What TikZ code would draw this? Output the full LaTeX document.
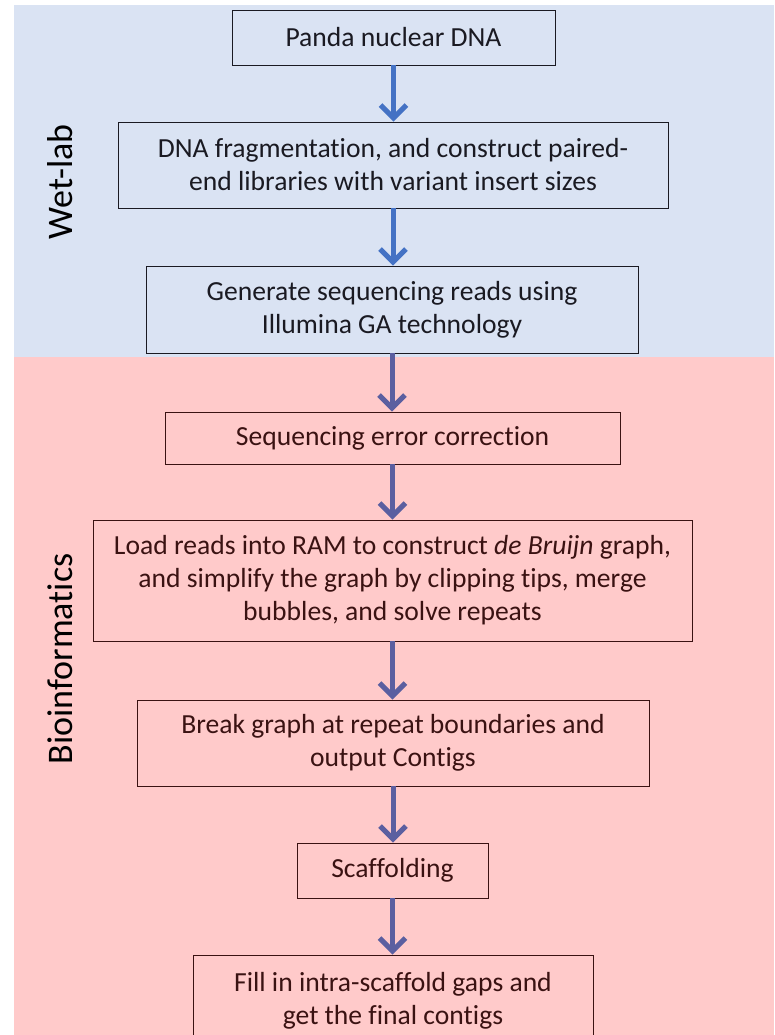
\documentclass[tikz,border=0pt]{standalone}
\usepackage{fontspec}
\setmainfont[RawFeature=-liga]{Carlito}
\usetikzlibrary{arrows.meta}

\definecolor{wetbg}{HTML}{DAE3F3}
\definecolor{biobg}{HTML}{FFCACA}
\definecolor{wetarrow}{HTML}{4472C4}
\definecolor{bioarrow}{HTML}{5B5FA0}
\definecolor{wetink}{HTML}{1A1A22}
\definecolor{bioink}{HTML}{3A1212}

\tikzset{
  stage/.style={draw, line width=0.9pt, align=center, inner sep=0pt,
    font=\fontsize{27.6}{33}\selectfont},
  wetstage/.style={stage, draw=wetink, text=wetink},
  biostage/.style={stage, draw=bioink, text=bioink},
  flow/.style={line width=5pt, -{Straight Barb[length=13pt,width=26pt]}},
  sidelabel/.style={rotate=90, font=\fontsize{36}{40}\selectfont, text=black}
}

\begin{document}
\begin{tikzpicture}[x=1pt,y=1pt]
        \useasboundingbox (0,0) rectangle (774,-1035);
        \clip (0,0) rectangle (774,-1035);
        % backgrounds
        \fill[wetbg] (14,-5) rectangle (774,-357);
        \fill[biobg] (14,-357) rectangle (774,-1035);
        \node[sidelabel] (wetlab) at (60,-182) {Wet-lab};
        \node[sidelabel] (bioinf) at (60,-659) {Bioinformatics};
        % wet-lab steps
        \node[wetstage, minimum width=323, minimum height=55] (dna) at (393.5,-37.5) {Panda nuclear DNA};
        \node[wetstage, minimum width=550, minimum height=86] (frag) at (393,-165) {DNA fragmentation, and construct paired-\\end libraries with variant insert sizes};
        \node[wetstage, minimum width=492, minimum height=87] (reads) at (392,-309.5) {Generate sequencing reads using\\Illumina GA technology};
        % bioinformatics steps
        \node[biostage, minimum width=455, minimum height=52] (correct) at (392.5,-438) {Sequencing error correction};
        \node[biostage, minimum width=599, minimum height=121] (graph) at (392.5,-580.5) {Load reads into RAM to construct \textit{de Bruijn} graph,\\and simplify the graph by clipping tips, merge\\bubbles, and solve repeats};
        \node[biostage, minimum width=512, minimum height=86] (contigs) at (393,-743) {Break graph at repeat boundaries and\\output Contigs};
        \node[biostage, minimum width=191, minimum height=55] (scaffold) at (392.5,-870.5) {Scaffolding};
        \node[biostage, minimum width=400, minimum height=92] (gaps) at (393,-1001) {Fill in intra-scaffold gaps and\\get the final contigs};
        % arrows
        \draw[flow, wetarrow] (dna) -- (dna |- frag.north);
        \draw[flow, wetarrow] (frag) -- (frag |- reads.north);
        \draw[flow, bioarrow] (reads) -- (reads |- correct.north);
        \draw[flow, bioarrow] (correct) -- (correct |- graph.north);
        \draw[flow, bioarrow] (graph) -- (graph |- contigs.north);
        \draw[flow, bioarrow] (contigs) -- (contigs |- scaffold.north);
        \draw[flow, bioarrow] (scaffold) -- (scaffold |- gaps.north);
    \end{tikzpicture}
\end{document}
